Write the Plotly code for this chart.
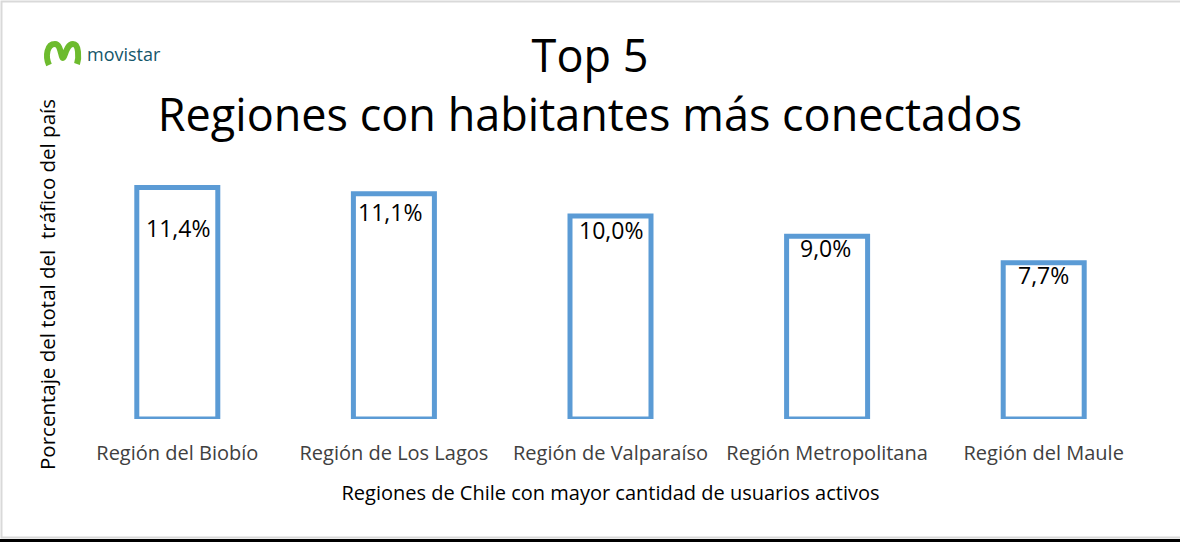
import plotly.graph_objects as go

# ---- data ----
regions = ["Región del Biobío", "Región de Los Lagos", "Región de Valparaíso",
           "Región Metropolitana", "Región del Maule"]
traffic_pct = [11.4, 11.1, 10.0, 9.0, 7.7]
value_labels = ["11,4%", "11,1%", "10,0%", "9,0%", "7,7%"]

# ---- layout constants ----
W, H = 1180, 542
L, R, T, B = 69, 28, 150, 123
PW, PH = W - L - R, H - T - B

def px(x):
    return (x - L) / PW

def py(y):
    return 1 - (y - T) / PH

# label vertical offsets (px below bar top) – styling only
label_offsets = [40, 18, 14, 12, 12]
label_xshift = [1, -4, 0, -2, 0]

fig = go.Figure()
fig.add_trace(go.Bar(
    x=regions, y=traffic_pct,
    marker=dict(color="white", line=dict(color="#5b9bd5", width=5)),
    hoverinfo="skip",
))

annotations = []
for reg, val, lab, off, xs in zip(regions, traffic_pct, value_labels, label_offsets, label_xshift):
    annotations.append(dict(
        x=reg, y=val, xref="x", yref="y", text=lab, showarrow=False,
        yanchor="middle", yshift=-off, xshift=xs,
        font=dict(family="Open Sans", size=23, color="black"),
    ))

# logo text
annotations.append(dict(
    x=px(85), y=py(54), xref="paper", yref="paper", text="movistar",
    showarrow=False, xanchor="left", yanchor="middle",
    font=dict(family="Open Sans", size=18, color="#14566a"),
))

# movistar "M" logo path in pixel coords -> paper
pts = [("M", 49, 65), ("C", 45, 56, 47, 44, 55, 44), ("C", 61, 44, 61, 58, 63, 58),
       ("C", 65, 58, 66, 44, 73, 44), ("C", 79, 44, 79, 58, 77, 64)]
path = ""
for p in pts:
    cmd = p[0]
    coords = p[1:]
    s = []
    for i in range(0, len(coords), 2):
        s.append(f"{px(coords[i]):.5f},{py(coords[i+1]):.5f}")
    path += cmd + " " + " ".join(s) + " "

shapes = [
    dict(type="path", path=path.strip(), xref="paper", yref="paper",
         line=dict(color="#6dbb2e", width=6), layer="above"),
    # outer frame
    dict(type="rect", xref="paper", yref="paper",
         x0=px(1.5), x1=px(W + 5), y0=py(537.5), y1=py(1.5),
         line=dict(color="#d9d9d9", width=2), fillcolor="rgba(0,0,0,0)", layer="below"),
    dict(type="rect", xref="paper", yref="paper",
         x0=px(-5), x1=px(W + 5), y0=py(543), y1=py(539),
         line=dict(width=0), fillcolor="black", layer="above"),
]

fig.update_layout(
    width=W, height=H,
    margin=dict(l=L, r=R, t=T, b=B),
    paper_bgcolor="white", plot_bgcolor="white",
    showlegend=False,
    bargap=0.626,
    title=dict(
        text="Top 5<br>Regiones con habitantes más conectados",
        x=0.5, xanchor="center", xref="container",
        y=1 - 72 / H, yanchor="middle",
        font=dict(family="Open Sans", size=45, color="black"),
    ),
    xaxis=dict(
        showgrid=False, zeroline=False, showline=False, ticks="",
        tickfont=dict(family="Open Sans", size=20, color="#404040"),
        ticklabelstandoff=20,
        title=dict(text="Regiones de Chile con mayor cantidad de usuarios activos",
                   font=dict(family="Open Sans", size=20, color="black"), standoff=20),
    ),
    yaxis=dict(
        range=[0, 13.25], showgrid=False, zeroline=False, showline=False,
        showticklabels=False, ticks="",
        title=dict(text="Porcentaje del total del  tráfico del país",
                   font=dict(family="Open Sans", size=20.5, color="black"), standoff=6),
    ),
    annotations=annotations,
    shapes=shapes,
)

fig.write_html("out.html")
